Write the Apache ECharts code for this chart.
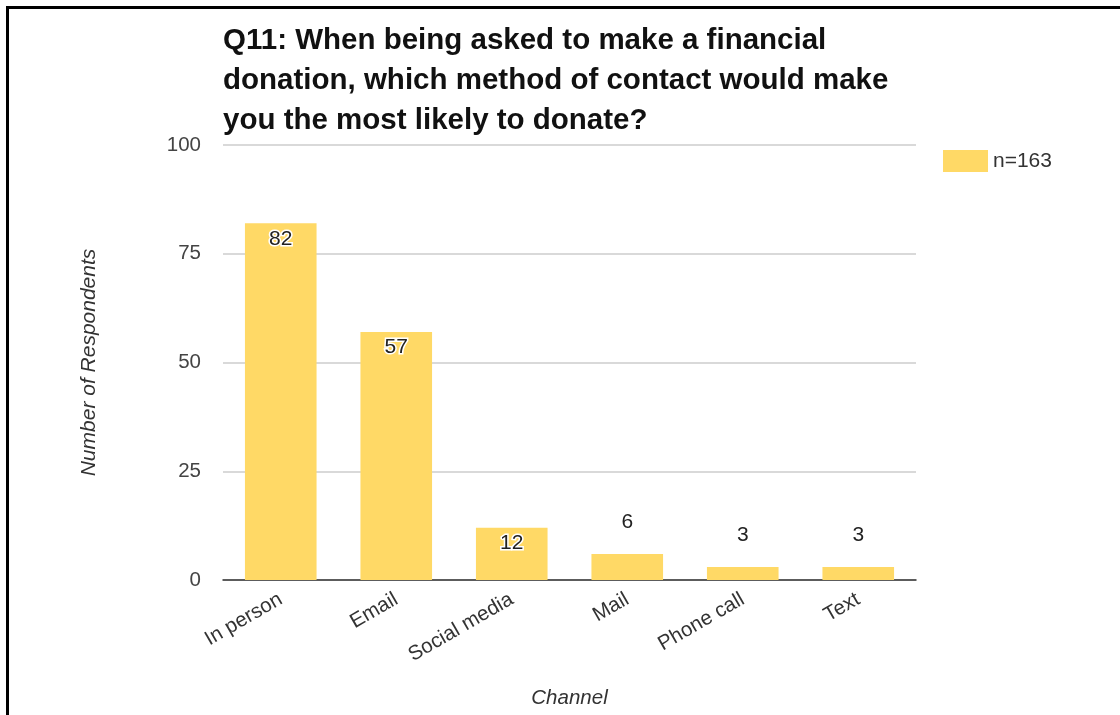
<!DOCTYPE html>
<html><head><meta charset="utf-8">
<script src="https://cdn.jsdelivr.net/npm/echarts@6/dist/echarts.min.js"></script>
<style>html,body{margin:0;padding:0;background:#fff}#c{width:1120px;height:715px}</style>
</head><body><div id="c"></div>
<script>
var titleText = 'Q11: When being asked to make a financial\ndonation, which method of contact would make\nyou the most likely to donate?';
var categories = ['In person', 'Email', 'Social media', 'Mail', 'Phone call', 'Text'];
var seriesName = 'n=163';
var values = [82, 57, 12, 6, 3, 3];
var labelInside = [true, true, true, false, false, false];
var yTicks = [0, 25, 50, 75, 100];

var font = '"Liberation Sans", Arial, sans-serif';
var data = values.map(function (v, i) {
  return {
    value: v,
    label: labelInside[i]
      ? { position: 'insideTop', distance: 5, textBorderColor: '#fff', textBorderWidth: 3 }
      : { position: 'top', distance: 21 }
  };
});

var chart = echarts.init(document.getElementById('c'));
chart.setOption({
  animation: false,
  backgroundColor: '#fff',
  title: {
    text: titleText, left: 218, top: 16,
    textStyle: { fontFamily: font, fontSize: 29.5, fontWeight: 'bold', color: '#111', lineHeight: 40 }
  },
  legend: {
    left: 938, top: 145, itemWidth: 45, itemHeight: 22, itemGap: 10,
    icon: 'rect',
    textStyle: { fontFamily: font, fontSize: 21, color: '#333' },
    data: [seriesName]
  },
  grid: { left: 223, right: 204, top: 145, bottom: 135, containLabel: false, outerBoundsMode: 'none' },
  xAxis: {
    type: 'category', data: categories,
    name: 'Channel', nameLocation: 'middle', nameGap: 108,
    nameTextStyle: { fontFamily: font, fontSize: 20.5, fontStyle: 'italic', color: '#333' },
    axisLine: { lineStyle: { color: '#333', width: 1.5 } },
    axisTick: { show: false },
    axisLabel: { rotate: 30, fontFamily: font, fontSize: 20.5, color: '#333', margin: 18, interval: 0 }
  },
  yAxis: {
    type: 'value', min: yTicks[0], max: yTicks[yTicks.length - 1], interval: 25,
    name: 'Number of Respondents', nameLocation: 'middle', nameGap: 123,
    nameTextStyle: { fontFamily: font, fontSize: 21, fontStyle: 'italic', color: '#333' },
    axisLine: { show: false }, axisTick: { show: false },
    axisLabel: { fontFamily: font, fontSize: 20.5, color: '#444', margin: 22 },
    splitLine: { lineStyle: { color: '#ccc', width: 1.5 } }
  },
  series: [{
    name: seriesName, type: 'bar', data: data,
    barCategoryGap: '38%',
    itemStyle: { color: '#ffd966' },
    label: { show: true, fontFamily: font, fontSize: 21, color: '#222' }
  }],
  graphic: [
    { type: 'rect', shape: { x: 6, y: 6, width: 3, height: 715 }, style: { fill: '#000' } },
    { type: 'rect', shape: { x: 6, y: 6, width: 1120, height: 3 }, style: { fill: '#000' } }
  ]
});
</script></body></html>
